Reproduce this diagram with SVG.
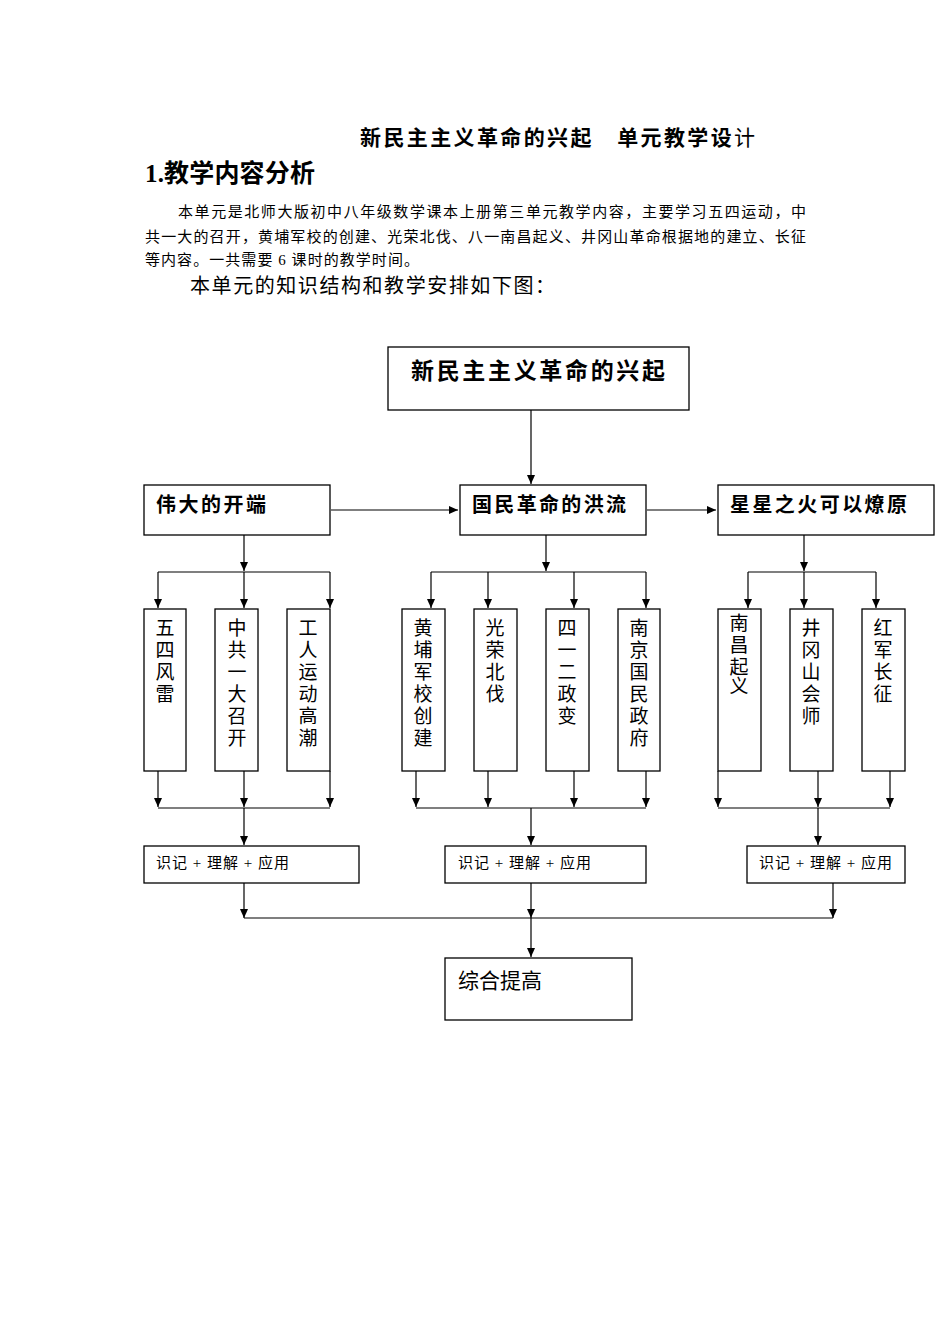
<svg xmlns="http://www.w3.org/2000/svg" width="950" height="1344" viewBox="0 0 950 1344">
<defs>
<marker id="a" markerWidth="10" markerHeight="10" refX="9" refY="5" orient="auto" markerUnits="userSpaceOnUse"><path d="M0,1 L9,5 L0,9 Z" fill="#000"/></marker>
<style>
text{font-family:"Liberation Serif","Noto Sans CJK SC",serif;fill:#000}
.b{font-weight:bold}
.h{font-family:"Liberation Sans","Noto Sans CJK SC",sans-serif;font-weight:bold}
rect{fill:#fff;stroke:#000;stroke-width:1.3}
.c line{stroke:#000;stroke-width:1.2;fill:none}
.v{font-size:19px;text-anchor:middle}
.s{font-size:15px}
</style>
</defs>
<rect x="0" y="0" width="950" height="1344" style="stroke:none"/>
<text x="360" y="145" class="b" font-size="21" textLength="395">新民主主义革命的兴起　单元教学设<tspan font-weight="normal">计</tspan></text>
<text x="145" y="182" class="b" font-size="25" textLength="170">1.教学内容分析</text>
<text x="178" y="217" font-size="15" textLength="628">本单元是北师大版初中八年级数学课本上册第三单元教学内容，主要学习五四运动，中</text>
<text x="145" y="242" font-size="15" textLength="661">共一大的召开，黄埔军校的创建、光荣北伐、八一南昌起义、井冈山革命根据地的建立、长征</text>
<text x="145" y="265" font-size="15" textLength="274">等内容。一共需要 6 课时的教学时间。</text>
<text x="190" y="293" font-size="20" textLength="365">本单元的知识结构和教学安排如下图：</text>
<g class="c">
<line x1="531" y1="410" x2="531" y2="484" marker-end="url(#a)"/>
<line x1="331" y1="510" x2="458" y2="510" marker-end="url(#a)"/>
<line x1="647" y1="510" x2="716" y2="510" marker-end="url(#a)"/>
<line x1="244" y1="535" x2="244" y2="571" marker-end="url(#a)"/>
<line x1="546" y1="535" x2="546" y2="571" marker-end="url(#a)"/>
<line x1="804" y1="535" x2="804" y2="571" marker-end="url(#a)"/>
<line x1="158" y1="572" x2="330" y2="572"/>
<line x1="431" y1="572" x2="646" y2="572"/>
<line x1="748" y1="572" x2="876" y2="572"/>
<line x1="158" y1="572" x2="158" y2="608" marker-end="url(#a)"/>
<line x1="244" y1="572" x2="244" y2="608" marker-end="url(#a)"/>
<line x1="330" y1="572" x2="330" y2="608" marker-end="url(#a)"/>
<line x1="431" y1="572" x2="431" y2="608" marker-end="url(#a)"/>
<line x1="488" y1="572" x2="488" y2="608" marker-end="url(#a)"/>
<line x1="574" y1="572" x2="574" y2="608" marker-end="url(#a)"/>
<line x1="646" y1="572" x2="646" y2="608" marker-end="url(#a)"/>
<line x1="748" y1="572" x2="748" y2="608" marker-end="url(#a)"/>
<line x1="804" y1="572" x2="804" y2="608" marker-end="url(#a)"/>
<line x1="876" y1="572" x2="876" y2="608" marker-end="url(#a)"/>
<line x1="158" y1="771" x2="158" y2="807" marker-end="url(#a)"/>
<line x1="244" y1="771" x2="244" y2="807" marker-end="url(#a)"/>
<line x1="330" y1="771" x2="330" y2="807" marker-end="url(#a)"/>
<line x1="416" y1="771" x2="416" y2="807" marker-end="url(#a)"/>
<line x1="488" y1="771" x2="488" y2="807" marker-end="url(#a)"/>
<line x1="574" y1="771" x2="574" y2="807" marker-end="url(#a)"/>
<line x1="646" y1="771" x2="646" y2="807" marker-end="url(#a)"/>
<line x1="718" y1="771" x2="718" y2="807" marker-end="url(#a)"/>
<line x1="818" y1="771" x2="818" y2="807" marker-end="url(#a)"/>
<line x1="890" y1="771" x2="890" y2="807" marker-end="url(#a)"/>
<line x1="158" y1="808" x2="330" y2="808"/>
<line x1="416" y1="808" x2="646" y2="808"/>
<line x1="718" y1="808" x2="890" y2="808"/>
<line x1="244" y1="808" x2="244" y2="845" marker-end="url(#a)"/>
<line x1="531" y1="808" x2="531" y2="845" marker-end="url(#a)"/>
<line x1="818" y1="808" x2="818" y2="845" marker-end="url(#a)"/>
<line x1="244" y1="883" x2="244" y2="918" marker-end="url(#a)"/>
<line x1="531" y1="883" x2="531" y2="918" marker-end="url(#a)"/>
<line x1="833" y1="883" x2="833" y2="918" marker-end="url(#a)"/>
<line x1="244" y1="918" x2="833" y2="918"/>
<line x1="531" y1="918" x2="531" y2="957" marker-end="url(#a)"/>
</g>
<g id="root"><rect x="388" y="347" width="301" height="63"/><text x="411" y="379" font-size="23" class="h" textLength="254">新民主主义革命的兴起</text></g>
<g id="n1"><rect x="144" y="485" width="186" height="50"/><text x="156" y="512" font-size="20" class="h" textLength="110">伟大的开端</text></g>
<g id="n2"><rect x="460" y="485" width="186" height="50"/><text x="472" y="512" font-size="20" class="h" textLength="154">国民革命的洪流</text></g>
<g id="n3"><rect x="718" y="485" width="216" height="50"/><text x="730" y="512" font-size="20" class="h" textLength="177">星星之火可以燎原</text></g>
<g id="b1"><rect x="144" y="609" width="42" height="162"/><text class="v" x="165" y="635">五</text><text class="v" x="165" y="657">四</text><text class="v" x="165" y="679">风</text><text class="v" x="165" y="701">雷</text></g>
<g id="b2"><rect x="215" y="609" width="43" height="162"/><text class="v" x="237" y="635">中</text><text class="v" x="237" y="657">共</text><text class="v" x="237" y="679">一</text><text class="v" x="237" y="701">大</text><text class="v" x="237" y="723">召</text><text class="v" x="237" y="745">开</text></g>
<g id="b3"><rect x="287" y="609" width="43" height="162"/><text class="v" x="308" y="635">工</text><text class="v" x="308" y="657">人</text><text class="v" x="308" y="679">运</text><text class="v" x="308" y="701">动</text><text class="v" x="308" y="723">高</text><text class="v" x="308" y="745">潮</text></g>
<g id="b4"><rect x="402" y="609" width="43" height="162"/><text class="v" x="423" y="635">黄</text><text class="v" x="423" y="657">埔</text><text class="v" x="423" y="679">军</text><text class="v" x="423" y="701">校</text><text class="v" x="423" y="723">创</text><text class="v" x="423" y="745">建</text></g>
<g id="b5"><rect x="474" y="609" width="43" height="162"/><text class="v" x="495" y="635">光</text><text class="v" x="495" y="657">荣</text><text class="v" x="495" y="679">北</text><text class="v" x="495" y="701">伐</text></g>
<g id="b6"><rect x="546" y="609" width="43" height="162"/><text class="v" x="567" y="635">四</text><text class="v" x="567" y="657">一</text><text class="v" x="567" y="679">二</text><text class="v" x="567" y="701">政</text><text class="v" x="567" y="723">变</text></g>
<g id="b7"><rect x="618" y="609" width="42" height="162"/><text class="v" x="639" y="635">南</text><text class="v" x="639" y="657">京</text><text class="v" x="639" y="679">国</text><text class="v" x="639" y="701">民</text><text class="v" x="639" y="723">政</text><text class="v" x="639" y="745">府</text></g>
<g id="b8"><rect x="718" y="609" width="43" height="162"/><text class="v" x="739" y="630" font-size="17">南</text><text class="v" x="739" y="652" font-size="17">昌</text><text class="v" x="739" y="674" font-size="17">起</text><text class="v" x="739" y="693" font-size="17">义</text></g>
<g id="b9"><rect x="790" y="609" width="43" height="162"/><text class="v" x="811" y="635">井</text><text class="v" x="811" y="657">冈</text><text class="v" x="811" y="679">山</text><text class="v" x="811" y="701">会</text><text class="v" x="811" y="723">师</text></g>
<g id="b10"><rect x="862" y="609" width="43" height="162"/><text class="v" x="883" y="635">红</text><text class="v" x="883" y="657">军</text><text class="v" x="883" y="679">长</text><text class="v" x="883" y="701">征</text></g>
<g id="s1"><rect x="144" y="846" width="215" height="37"/><text class="s" x="156" y="868" textLength="133">识记 + 理解 + 应用</text></g>
<g id="s2"><rect x="445" y="846" width="201" height="37"/><text class="s" x="458" y="868" textLength="133">识记 + 理解 + 应用</text></g>
<g id="s3"><rect x="747" y="846" width="158" height="37"/><text class="s" x="759" y="868" textLength="133">识记 + 理解 + 应用</text></g>
<g id="z"><rect x="445" y="958" width="187" height="62"/><text x="458" y="988" font-size="21">综合提高</text></g>
</svg>
